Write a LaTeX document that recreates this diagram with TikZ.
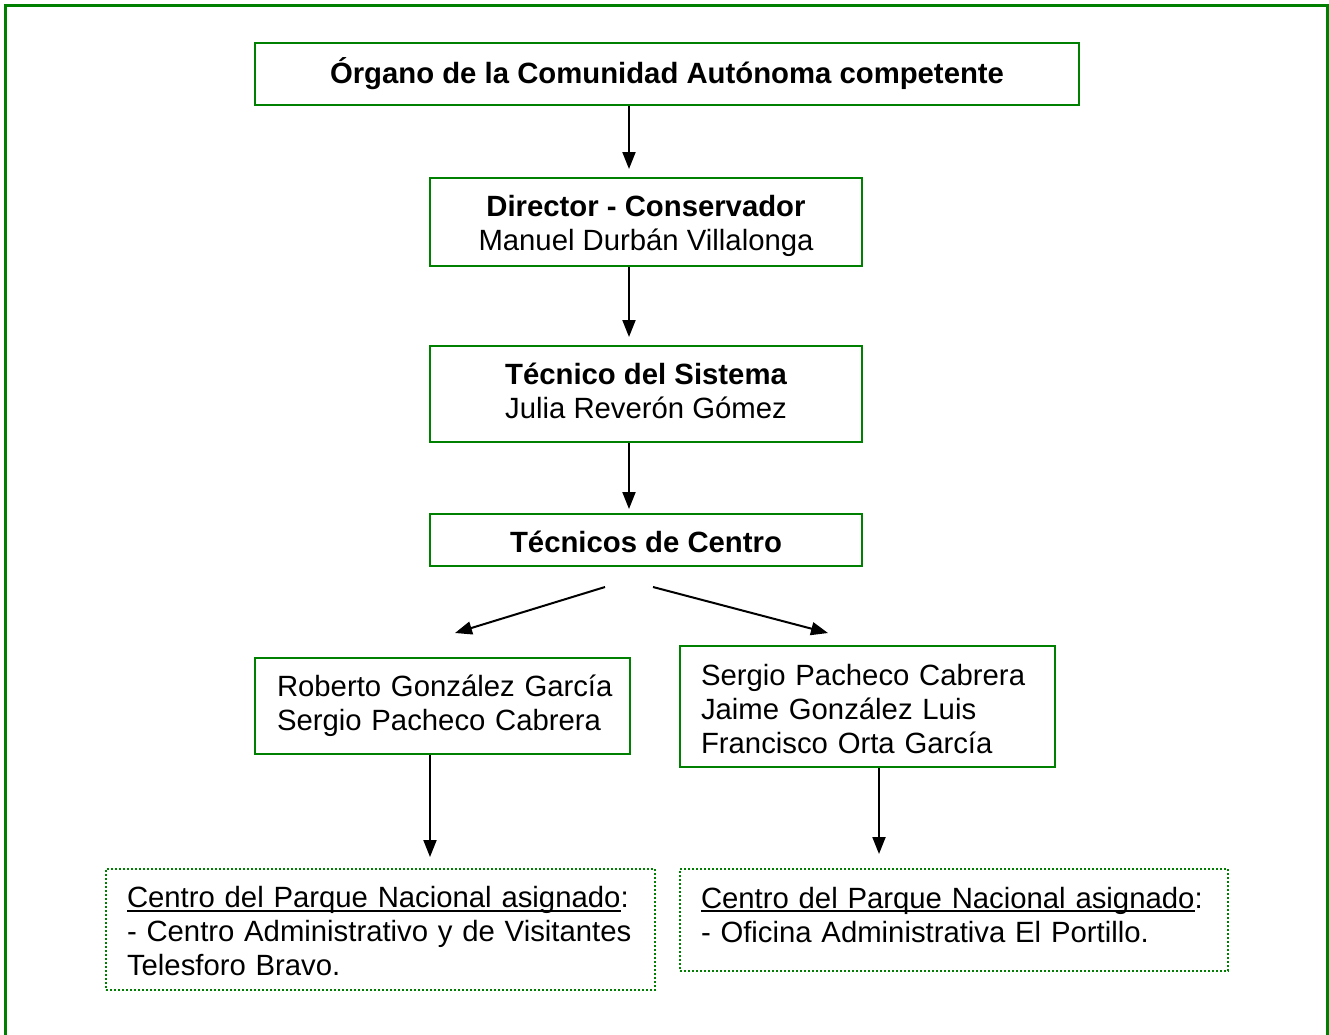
\documentclass[tikz,border=0pt]{standalone}
\usepackage{fontspec}
\setmainfont{Liberation Sans}
\usetikzlibrary{arrows.meta}
\definecolor{boxgreen}{RGB}{0,128,0}
\newsavebox\ulbox
\newcommand\myul[1]{\sbox\ulbox{#1}\rlap{\rule[-4pt]{\wd\ulbox}{1.8pt}}\usebox\ulbox}
% strut of total height 34pt with given depth
\newcommand\sst[1]{\rule[-#1pt]{0pt}{34pt}}
\newcommand\myfont{\fontsize{29.3}{34}\selectfont\lineskiplimit=-100pt\relax}
\begin{document}
\begin{tikzpicture}[x=1pt,y=-1pt,
  font=\myfont,
  gbox/.style={draw=boxgreen, line width=2pt, inner sep=0pt, align=center},
  lbox/.style={draw=boxgreen, line width=2pt, inner ysep=0pt, align=left},
  dbox/.style={draw=boxgreen, line width=2pt, dash pattern=on 2pt off 2pt, inner ysep=0pt, align=left},
  arr/.style={-{Triangle[length=17pt,width=13pt]}, line width=2pt, black}]
\useasboundingbox (0,0) rectangle (1329,1034);
\draw[boxgreen, line width=3pt] (5.5,1045) -- (5.5,5.5) -- (1327,5.5) -- (1327,1045);

\node[gbox, minimum width=824, minimum height=62] (org) at (667,74)
  {\sst{7.5}\bfseries Órgano de la Comunidad Autónoma competente};
\node[gbox, minimum width=432, minimum height=88] (dir) at (646,222)
  {\sst{5.5}\bfseries Director - Conservador\\\sst{5.5}Manuel Durbán Villalonga};
\node[gbox, minimum width=432, minimum height=96] (tec) at (646,394)
  {\sst{9.5}\bfseries Técnico del Sistema\\\sst{9.5}Julia Reverón Gómez};
\node[gbox, minimum width=432, minimum height=52] (cen) at (646,540)
  {\sst{4.5}\bfseries Técnicos de Centro};
\node[lbox, minimum width=375, minimum height=96, inner xsep=22pt, text width=331pt] (rob) at (442.5,706)
  {\mbox{\sst{9.5}Roberto González García}\\\mbox{\sst{9.5}Sergio Pacheco Cabrera}};
\node[lbox, minimum width=375, minimum height=121, inner xsep=21pt, text width=333pt] (ser) at (867.5,706.5)
  {\mbox{\sst{4}Sergio Pacheco Cabrera}\\\mbox{\sst{4}Jaime González Luis}\\\mbox{\sst{4}Francisco Orta García}};
\node[dbox, minimum width=549, minimum height=121, inner xsep=21pt, text width=507pt] (dotL) at (380.5,929.5)
  {\mbox{\sst{5}\myul{Centro del Parque Nacional asignado}:}\\\mbox{\sst{5}- Centro Administrativo y de Visitantes}\\\mbox{\sst{5}Telesforo Bravo.}};
\node[dbox, minimum width=548, minimum height=102, inner xsep=21pt, text width=506pt] (dotR) at (954,920)
  {\mbox{\sst{12}\myul{Centro del Parque Nacional asignado}:}\\\mbox{\sst{12}- Oficina Administrativa El Portillo.}};

\draw[arr] ([xshift=-38pt]org.south) -- ([xshift=-17pt,yshift=8pt]dir.north);
\draw[arr] ([xshift=-17pt]dir.south) -- ([xshift=-17pt,yshift=8pt]tec.north);
\draw[arr] ([xshift=-17pt]tec.south) -- ([xshift=-17pt,yshift=4pt]cen.north);
\draw[arr] ([xshift=-41pt,yshift=-20pt]cen.south) -- ([xshift=12.5pt,yshift=24pt]rob.north);
\draw[arr] ([xshift=7pt,yshift=-20pt]cen.south) -- ([xshift=-39.5pt,yshift=12pt]ser.north);
\draw[arr] ([xshift=-12.5pt]rob.south) -- ([xshift=49.5pt,yshift=11pt]dotL.north);
\draw[arr] ([xshift=11.5pt]ser.south) -- ([xshift=-75pt,yshift=14pt]dotR.north);
\end{tikzpicture}
\end{document}
